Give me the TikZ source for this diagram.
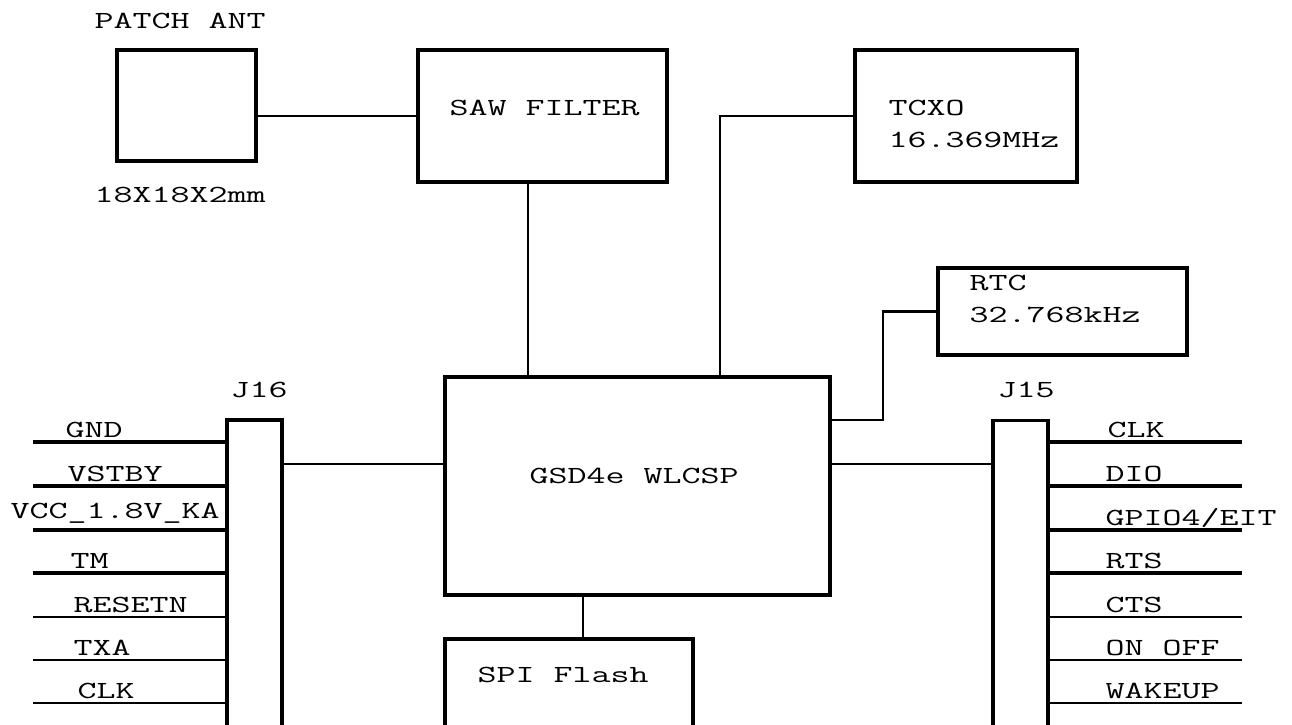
\documentclass[tikz,border=0pt]{standalone}
\usepackage{fontspec}
\usepackage{tikz}
\usetikzlibrary{positioning}

\begin{document}
\begin{tikzpicture}[
  x=0.02cm, y=-0.02cm,
  blk/.style={rectangle, draw=black, line width=1.8pt, inner sep=0pt},
  wire/.style={draw=black, line width=1.4pt},
  pinA/.style={draw=black, line width=2.1pt},
  pinB/.style={draw=black, line width=1.4pt},
  txt/.style={font=\ttfamily\fontsize{14}{18}\selectfont, inner sep=0pt,
              anchor=base west, xscale=1.5, transform shape}
]
  \clip (0,0) rectangle (1292,724);

  % blocks
  \node[blk, minimum width=2.78cm, minimum height=2.22cm] (ant)  at (186.5,105.5) {};
  \node[blk, minimum width=4.98cm, minimum height=2.64cm] (saw)  at (542.5,116)   {};
  \node[blk, minimum width=4.44cm, minimum height=2.64cm] (tcxo) at (966,116)     {};
  \node[blk, minimum width=4.98cm, minimum height=1.74cm] (rtc)  at (1062.5,311.5) {};
  \node[blk, minimum width=7.70cm, minimum height=4.36cm] (gsd)  at (637.5,486)   {};
  \node[blk, minimum width=4.96cm, minimum height=2.42cm] (spi)  at (569,699.5)   {};
  \node[blk, minimum width=1.10cm, minimum height=6.80cm] (j16)  at (254.5,590)   {};
  \node[blk, minimum width=1.10cm, minimum height=6.80cm] (j15)  at (1020.5,590.5) {};

  % texts
  \node[txt] (anttop) at (94,28)   {PATCH ANT};
  \node[txt] (antbot) at (94,202)  {18X18X2mm};
  \node[txt] (sawtxt) at (449,115) {SAW FILTER};
  \node[txt] (tcxoa)  at (888,115) {TCXO};
  \node[txt] (tcxob)  at (888,147) {16.369MHz};
  \node[txt] (rtca)   at (969,290) {RTC};
  \node[txt] (rtcb)   at (969,322) {32.768kHz};
  \node[txt] (gsdtxt) at (529,483) {GSD4e WLCSP};
  \node[txt] (spitxt) at (477,682) {SPI Flash};
  \node[txt] (j16txt) at (230,397) {J16};
  \node[txt] (j15txt) at (997,397) {J15};

  % links
  \coordinate (tc) at (720,116);
  \coordinate (rc) at (883,420);
  \draw[wire] (ant.east |- saw.west) -- (saw.west);
  \draw[wire] (saw.south -| 528,0) -- (gsd.north -| 528,0);
  \draw[wire] (tcxo.west) -- (tc) -- (gsd.north -| tc);
  \draw[wire] (gsd.east |- rc) -- (rc) |- (rtc.west);
  \draw[wire] (j16.east |- 0,464) -- (gsd.west |- 0,464);
  \draw[wire] (gsd.east |- 0,464) -- (j15.west |- 0,464);
  \draw[wire] (gsd.south -| 583,0) -- (spi.north -| 583,0);

  % J16 pins
  \coordinate (p1) at (33,442);
  \coordinate (p2) at (33,486);
  \coordinate (p3) at (33,530);
  \coordinate (p4) at (33,573);
  \coordinate (p5) at (33,617);
  \coordinate (p6) at (33,660);
  \coordinate (p7) at (33,703);
  \draw[pinA] (p1) -- (p1 -| j16.west);
  \draw[pinA] (p2) -- (p2 -| j16.west);
  \draw[pinA] (p3) -- (p3 -| j16.west);
  \draw[pinA] (p4) -- (p4 -| j16.west);
  \draw[pinB] (p5) -- (p5 -| j16.west);
  \draw[pinB] (p6) -- (p6 -| j16.west);
  \draw[pinB] (p7) -- (p7 -| j16.west);
  \node[txt] (lgnd)  at (65,437) {GND};
  \node[txt] (lvst)  at (67,481) {VSTBY};
  \node[txt] (lvcc)  at (10,518) {VCC\_1.8V\_KA};
  \node[txt] (ltm)   at (70,568) {TM};
  \node[txt] (lrst)  at (73,612) {RESETN};
  \node[txt] (ltxa)  at (73,655) {TXA};
  \node[txt] (lclk)  at (77,698) {CLK};

  % J15 pins
  \coordinate (q1) at (1242,442);
  \coordinate (q2) at (1242,486);
  \coordinate (q3) at (1242,530);
  \coordinate (q4) at (1242,573);
  \coordinate (q5) at (1242,617);
  \coordinate (q6) at (1242,660);
  \coordinate (q7) at (1242,703);
  \draw[pinA] (j15.east |- q1) -- (q1);
  \draw[pinA] (j15.east |- q2) -- (q2);
  \draw[pinA] (j15.east |- q3) -- (q3);
  \draw[pinA] (j15.east |- q4) -- (q4);
  \draw[pinB] (j15.east |- q5) -- (q5);
  \draw[pinB] (j15.east |- q6) -- (q6);
  \draw[pinB] (j15.east |- q7) -- (q7);
  \node[txt] (rclk)  at (1107,437) {CLK};
  \node[txt] (rdio)  at (1105,481) {DIO};
  \node[txt] (rgpio) at (1105,525) {GPIO4/EIT};
  \node[txt] (rrts)  at (1105,568) {RTS};
  \node[txt] (rcts)  at (1105,612) {CTS};
  \node[txt] (ronof) at (1105,655) {ON OFF};
  \node[txt] (rwake) at (1105,698) {WAKEUP};
\end{tikzpicture}
\end{document}
